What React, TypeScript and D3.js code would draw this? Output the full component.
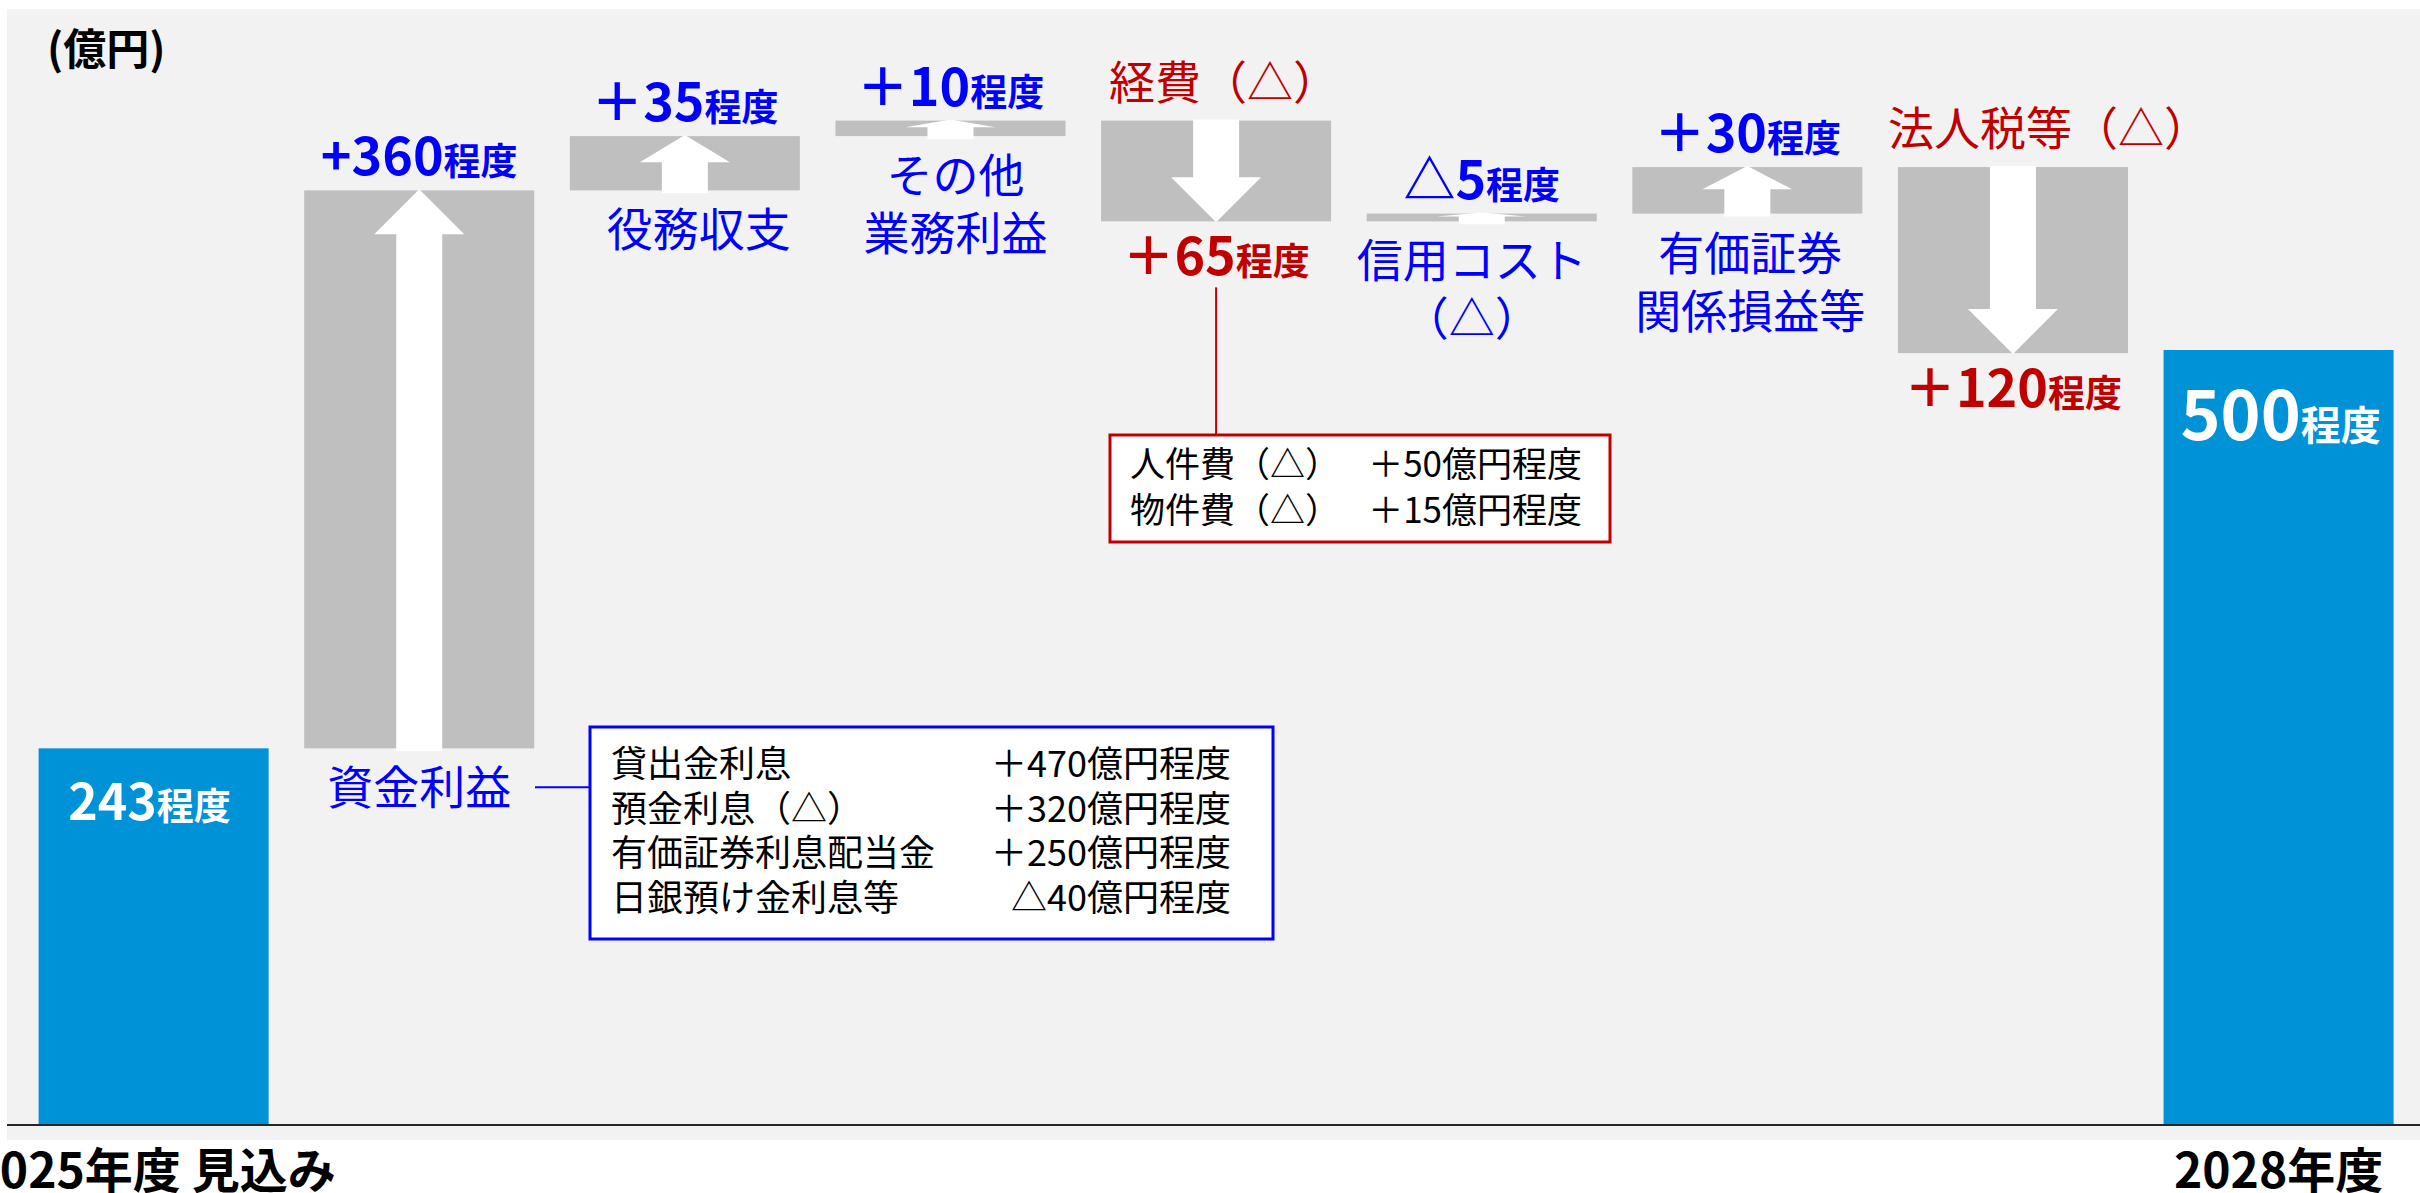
import * as d3 from 'd3';
import { useEffect, useRef } from 'react';

const width = 2420;
const height = 1193;

// chart data
const startLabel = '2025年度 見込み';
const endLabel = '2028年度';
const startValue = 243;
const endValue = 500;
const stepNames = ['資金利益', '役務収支', 'その他業務利益', '経費', '信用コスト', '有価証券関係損益等', '法人税等'];
const stepValues = [360, 35, 10, -65, 5, 30, -120];
const stepValueText = ['+360', '＋35', '＋10', '＋65', '△5', '＋30', '＋120'];
const stepTitleLines = [['資金利益'], ['役務収支'], ['その他', '業務利益'], ['経費（△）'], ['信用コスト', '（△）'], ['有価証券', '関係損益等'], ['法人税等（△）']];
const fundItems = ['貸出金利息', '預金利息（△）', '有価証券利息配当金', '日銀預け金利息等'];
const fundAmounts = ['＋470億円程度', '＋320億円程度', '＋250億円程度', '△40億円程度'];
const costItems = ['人件費（△）', '物件費（△）'];
const costAmounts = ['＋50億円程度', '＋15億円程度'];
const unitLabel = '(億円)';

// small horizontal nudges of the step titles
const titleDx = [0, 14, 5, 8, -10, 3, 36];

const BLUE = '#0000FF';
const RED = '#C00000';
const BAR = '#0092D6';
const GRAY = '#BFBFBF';

const App = () => {
  const svgRef = useRef(null);

  useEffect(() => {
    const svg = d3.select(svgRef.current);
    svg.selectAll('*').remove();

    const categories = [startLabel, ...stepNames, endLabel];
    const x = d3.scaleBand().domain(categories).range([20.8, 2411.4]).paddingInner(0.134).paddingOuter(0.067);
    const y = d3.scaleLinear().domain([0, 700]).range([1125, 40]);
    const bw = x.bandwidth();

    // panel
    svg.append('rect').attr('x', 7).attr('y', 9).attr('width', width - 7).attr('height', 1131).attr('fill', '#F2F2F2');

    svg.append('text')
      .attr('x', 47).attr('y', 65)
      .attr('font-size', 43).attr('font-weight', 700).attr('fill', '#000')
      .text(unitLabel);

    // running totals
    let run = startValue;
    const steps = stepValues.map((v, i) => {
      const from = run;
      run += v;
      return { name: stepNames[i], v, from, to: run, i };
    });

    // start and end bars
    const totals = [
      { name: startLabel, v: startValue, digits: 50, suffix: 37, dy: 72, dx: -4 },
      { name: endLabel, v: endValue, digits: 68, suffix: 40, dy: 90, dx: 2 },
    ];
    svg.selectAll('.total')
      .data(totals)
      .enter()
      .append('rect')
      .attr('x', (d) => x(d.name))
      .attr('y', (d) => y(d.v))
      .attr('width', bw)
      .attr('height', (d) => y(0) - y(d.v))
      .attr('fill', BAR);

    const valueText = (px, py, main, mainSize, sufSize, color) => {
      const t = svg.append('text')
        .attr('x', px).attr('y', py)
        .attr('text-anchor', 'middle')
        .attr('font-weight', 700)
        .attr('fill', color);
      t.append('tspan').attr('font-size', mainSize).text(main);
      t.append('tspan').attr('font-size', sufSize).text('程度');
    };

    totals.forEach((d) => {
      valueText(x(d.name) + bw / 2 + d.dx, y(d.v) + d.dy, String(d.v), d.digits, d.suffix, '#fff');
    });

    // step boxes
    svg.selectAll('.step')
      .data(steps)
      .enter()
      .append('rect')
      .attr('x', (d) => x(d.name))
      .attr('y', (d) => y(Math.max(d.from, d.to)))
      .attr('width', bw)
      .attr('height', (d) => Math.abs(y(d.from) - y(d.to)))
      .attr('fill', GRAY);

    // block arrows
    const line = d3.line();
    const arrow = (d) => {
      const cx = x(d.name) + bw / 2;
      const top = y(Math.max(d.from, d.to));
      const bottom = y(Math.min(d.from, d.to));
      const hh = Math.min(45, (bottom - top) / 2);
      const hw = 45;
      const sw = 23;
      if (d.v > 0) {
        const t = top - 1;
        const b = bottom + 3;
        return line([[cx, t], [cx + hw, t + hh], [cx + sw, t + hh], [cx + sw, b], [cx - sw, b], [cx - sw, t + hh], [cx - hw, t + hh]]) + 'Z';
      }
      const t = top - 1;
      const b = bottom + 1;
      return line([[cx - sw, t], [cx + sw, t], [cx + sw, b - hh], [cx + hw, b - hh], [cx, b], [cx - hw, b - hh], [cx - sw, b - hh]]) + 'Z';
    };
    svg.selectAll('.arrow')
      .data(steps)
      .enter()
      .append('path')
      .attr('d', arrow)
      .attr('fill', '#fff');

    // step labels
    steps.forEach((d) => {
      const cx = x(d.name) + bw / 2;
      const top = y(Math.max(d.from, d.to));
      const bottom = y(Math.min(d.from, d.to));
      const up = d.v > 0;
      const color = up ? BLUE : RED;
      const lines = stepTitleLines[d.i];
      if (up) {
        valueText(cx, top - 15, stepValueText[d.i], 52, 37, color);
        lines.forEach((l, k) => {
          svg.append('text')
            .attr('x', cx + titleDx[d.i]).attr('y', bottom + 56 + k * 58)
            .attr('text-anchor', 'middle').attr('font-size', 46).attr('fill', color)
            .text(l);
        });
      } else {
        valueText(cx, bottom + 54, stepValueText[d.i], 52, 37, color);
        svg.append('text')
          .attr('x', cx + titleDx[d.i]).attr('y', top - 22)
          .attr('text-anchor', 'middle').attr('font-size', 46).attr('fill', color)
          .text(lines[0]);
      }
    });

    // axis line and category labels
    svg.append('line')
      .attr('x1', 7).attr('x2', width)
      .attr('y1', y(0)).attr('y2', y(0))
      .attr('stroke', '#262626').attr('stroke-width', 2);

    svg.selectAll('.xlabel')
      .data([startLabel, endLabel])
      .enter()
      .append('text')
      .attr('x', (d) => x(d) + bw / 2)
      .attr('y', 1188)
      .attr('text-anchor', 'middle')
      .attr('font-size', 48).attr('font-weight', 700).attr('fill', '#000')
      .text((d) => d);

    // 資金利益 breakdown box
    const fund = steps[0];
    const fundLabelY = y(fund.from) + 56 - 17;
    const fundBox = { x: 590, y: 727, w: 683, h: 212 };
    svg.append('line')
      .attr('x1', fundBox.x - 55).attr('x2', fundBox.x)
      .attr('y1', fundLabelY).attr('y2', fundLabelY)
      .attr('stroke', BLUE).attr('stroke-width', 2);
    svg.append('rect')
      .attr('x', fundBox.x).attr('y', fundBox.y).attr('width', fundBox.w).attr('height', fundBox.h)
      .attr('fill', '#fff').attr('stroke', BLUE).attr('stroke-width', 3);
    fundItems.forEach((t, k) => {
      svg.append('text').attr('x', 611).attr('y', 777 + k * 44.6)
        .attr('font-size', 36).attr('fill', '#000').text(t);
      svg.append('text').attr('x', 1231).attr('y', 777 + k * 44.6)
        .attr('text-anchor', 'end').attr('font-size', 36).attr('fill', '#000').text(fundAmounts[k]);
    });

    // 経費 breakdown box
    const cost = steps[3];
    const costX = x(cost.name) + bw / 2;
    const costBox = { x: 1110, y: 435, w: 500, h: 107 };
    svg.append('line')
      .attr('x1', costX).attr('x2', costX)
      .attr('y1', y(cost.to) + 54 + 12).attr('y2', costBox.y)
      .attr('stroke', RED).attr('stroke-width', 2);
    svg.append('rect')
      .attr('x', costBox.x).attr('y', costBox.y).attr('width', costBox.w).attr('height', costBox.h)
      .attr('fill', '#fff').attr('stroke', RED).attr('stroke-width', 3);
    costItems.forEach((t, k) => {
      svg.append('text').attr('x', 1130).attr('y', 477 + k * 46)
        .attr('font-size', 35).attr('fill', '#000').text(t);
      svg.append('text').attr('x', 1582).attr('y', 477 + k * 46)
        .attr('text-anchor', 'end').attr('font-size', 35).attr('fill', '#000').text(costAmounts[k]);
    });

    return () => {
      svg.selectAll('*').remove();
    };
  }, []);

  return (
    <svg
      ref={svgRef}
      width={width}
      height={height}
      style={{ position: 'absolute', left: 0, top: 0, display: 'block', background: '#fff', fontFamily: '"Noto Sans CJK JP", "Noto Sans", sans-serif' }}
    />
  );
};

export default App;
